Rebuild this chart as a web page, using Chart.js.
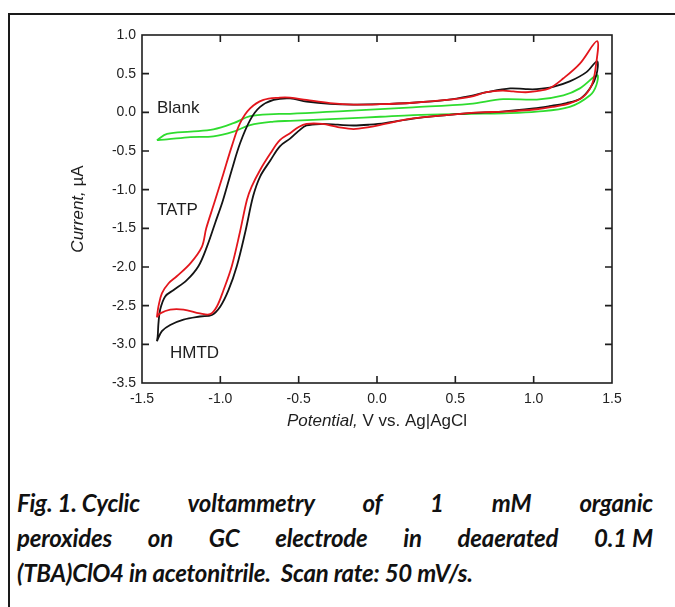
<!DOCTYPE html>
<html>
<head>
<meta charset="utf-8">
<script src="https://cdn.jsdelivr.net/npm/chart.js@4.4.1/dist/chart.umd.min.js"></script>
<style>
  body { margin: 0; width: 675px; height: 607px; overflow: hidden; background: #fff; position: relative; }
  #marco { position: absolute; left: 8px; top: 13px; width: 720px; height: 700px;
           border-left: 2px solid #1a1a1a; border-top: 2px solid #1a1a1a; }
  #grafico { position: absolute; left: 0; top: 0; }
  .leyenda { position: absolute; left: 17px; width: 636px; font-family: Lato, "Open Sans", sans-serif;
             font-weight: 700; font-style: italic; font-size: 24px; color: #111; line-height: 35px;
             white-space: nowrap; letter-spacing: -0.2px; }
  .just { text-align: justify; text-align-last: justify; white-space: normal; }
  .junto { display: inline-block; white-space: pre; }
</style>
</head>
<body>
<div id="marco"></div>
<canvas id="grafico" width="675" height="460"></canvas>
<div class="leyenda just" style="top:485px"><span class="junto">Fig. 1. Cyclic</span> voltammetry of 1 mM organic</div>
<div class="leyenda just" style="top:520px">peroxides on GC electrode in deaerated <span class="junto">0.1 M</span></div>
<div class="leyenda" style="top:555px">(TBA)ClO4 in acetonitrile.&nbsp; Scan rate: 50 mV/s.</div>
<script>
// Datos (potencial en V, corriente en µA)
const tatpV = [-1.405, -1.395, -1.373, -1.33, -1.278, -1.19, -1.118, -1.09, -1.04, -0.98, -0.927, -0.874, -0.81, -0.725, -0.62, -0.555, -0.45, -0.3, -0.15, 0.02, 0.23, 0.445, 0.593, 0.70, 0.80, 0.87, 0.95, 1.02, 1.10, 1.19, 1.295, 1.405,
               1.395, 1.37, 1.316, 1.23, 1.124, 1.02, 0.805, 0.657, 0.445, 0.23, 0.05, -0.05, -0.15, -0.25, -0.35, -0.45, -0.5, -0.555, -0.62, -0.68, -0.746, -0.80, -0.83, -0.874, -0.927, -0.98, -1.022, -1.065, -1.13, -1.235, -1.32, -1.384, -1.405];
const tatpI = [-2.65, -2.51, -2.34, -2.21, -2.12, -1.95, -1.74, -1.5, -1.18, -0.79, -0.44, -0.14, 0.05, 0.16, 0.19, 0.19, 0.16, 0.12, 0.10, 0.105, 0.124, 0.16, 0.20, 0.26, 0.28, 0.27, 0.26, 0.275, 0.31, 0.44, 0.63, 0.92,
               0.57, 0.35, 0.20, 0.116, 0.072, 0.04, 0.008, 0.0, -0.035, -0.078, -0.15, -0.19, -0.216, -0.19, -0.15, -0.15, -0.19, -0.27, -0.36, -0.53, -0.745, -0.96, -1.13, -1.54, -1.99, -2.30, -2.51, -2.61, -2.60, -2.55, -2.55, -2.60, -2.65];

const hmtdV = [-1.405, -1.40, -1.395, -1.384, -1.352, -1.30, -1.214, -1.14, -1.086, -1.033, -0.985, -0.927, -0.874, -0.81, -0.746, -0.66, -0.555, -0.45, -0.3, -0.15, 0.02, 0.23, 0.445, 0.593, 0.70, 0.85, 0.95, 1.02, 1.124, 1.23, 1.337, 1.405,
               1.40, 1.36, 1.30, 1.21, 1.10, 1.0, 0.8, 0.6, 0.445, 0.23, 0.05, -0.05, -0.15, -0.25, -0.35, -0.45, -0.5, -0.555, -0.62, -0.68, -0.746, -0.79, -0.84, -0.895, -0.948, -1.0, -1.054, -1.13, -1.235, -1.32, -1.373, -1.405];
const hmtdI = [-2.96, -2.90, -2.73, -2.55, -2.38, -2.30, -2.17, -1.99, -1.74, -1.43, -1.15, -0.745, -0.40, -0.10, 0.07, 0.16, 0.18, 0.14, 0.11, 0.10, 0.105, 0.124, 0.16, 0.21, 0.26, 0.31, 0.30, 0.30, 0.33, 0.40, 0.52, 0.66,
               0.48, 0.31, 0.18, 0.12, 0.08, 0.05, 0.01, -0.01, -0.035, -0.08, -0.14, -0.16, -0.17, -0.16, -0.15, -0.17, -0.24, -0.34, -0.44, -0.62, -0.83, -1.08, -1.54, -1.99, -2.30, -2.51, -2.62, -2.64, -2.68, -2.75, -2.83, -2.96];

const blankV = [-1.405, -1.34, -1.19, -1.044, -0.916, -0.81, -0.66, -0.555, -0.19, 0.23, 0.593, 0.805, 1.02, 1.19, 1.295, 1.405,
                1.40, 1.36, 1.23, 1.02, 0.805, 0.6, 0.23, 0.02, -0.19, -0.555, -0.66, -0.81, -0.916, -1.044, -1.19, -1.34, -1.405];
const blankI = [-0.36, -0.28, -0.25, -0.22, -0.14, -0.05, -0.022, -0.02, 0.02, 0.065, 0.11, 0.17, 0.165, 0.22, 0.31, 0.48,
                0.35, 0.22, 0.07, 0.008, -0.013, -0.02, -0.035, -0.057, -0.078, -0.11, -0.12, -0.165, -0.25, -0.31, -0.32, -0.35, -0.36];

const xTicks = [-1.5, -1.0, -0.5, 0.0, 0.5, 1.0, 1.5];
const yTicks = [-3.5, -3.0, -2.5, -2.0, -1.5, -1.0, -0.5, 0.0, 0.5, 1.0];
const etiquetas = ['Blank', 'TATP', 'HMTD'];

function puntos(xs, ys) {
    return xs.map((v, i) => ({ x: v, y: ys[i] }));
}

const fuente = '"Liberation Sans", Arial, sans-serif';

// Marco, ticks hacia dentro, títulos de ejes y rótulos de curvas
const extras = {
    id: 'extras',
    afterDraw(chart) {
        const ctx = chart.ctx;
        const a = chart.chartArea;
        const sx = chart.scales.x, sy = chart.scales.y;
        ctx.save();
        ctx.strokeStyle = '#1e1e1e';
        ctx.lineWidth = 1.6;
        ctx.strokeRect(a.left, a.top, a.right - a.left, a.bottom - a.top);
        ctx.beginPath();
        xTicks.slice(1, -1).forEach(v => {
            const p = sx.getPixelForValue(v);
            ctx.moveTo(p, a.bottom); ctx.lineTo(p, a.bottom - 7);
            ctx.moveTo(p, a.top); ctx.lineTo(p, a.top + 7);
        });
        yTicks.slice(1, -1).forEach(v => {
            const p = sy.getPixelForValue(v);
            ctx.moveTo(a.left, p); ctx.lineTo(a.left + 7, p);
            ctx.moveTo(a.right, p); ctx.lineTo(a.right - 7, p);
        });
        ctx.stroke();

        ctx.fillStyle = '#1e1e1e';
        ctx.textBaseline = 'middle';
        ctx.textAlign = 'left';
        function mixto(cx, cy, it, normal) {
            ctx.font = 'italic 17px ' + fuente;
            const w1 = ctx.measureText(it).width;
            ctx.font = '17px ' + fuente;
            const w2 = ctx.measureText(normal).width;
            const x0 = cx - (w1 + w2) / 2;
            ctx.font = 'italic 17px ' + fuente;
            ctx.fillText(it, x0, cy);
            ctx.font = '17px ' + fuente;
            ctx.fillText(normal, x0 + w1, cy);
        }
        mixto((a.left + a.right) / 2, 421, 'Potential,', ' V vs. Ag|AgCl');
        ctx.save();
        ctx.translate(78, 209);
        ctx.rotate(-Math.PI / 2);
        mixto(0, 0, 'Current,', ' µA');
        ctx.restore();

        ctx.font = '17px ' + fuente;
        ctx.fillText(etiquetas[0], 157, 108);
        ctx.fillText(etiquetas[1], 157, 210);
        ctx.fillText(etiquetas[2], 170, 353);
        ctx.restore();
    }
};

const ctx = document.getElementById('grafico').getContext('2d');
window.myChart = new Chart(ctx, {
    type: 'scatter',
    data: {
        datasets: [
            { label: 'TATP', data: puntos(tatpV, tatpI), borderColor: '#e3161c' },
            { label: 'HMTD', data: puntos(hmtdV, hmtdI), borderColor: '#141414' },
            { label: 'Blank', data: puntos(blankV, blankI), borderColor: '#2fdc2f' }
        ]
    },
    options: {
        responsive: false,
        animation: false,
        showLine: true,
        elements: {
            point: { radius: 0 },
            line: { borderWidth: 1.8, tension: 0.35, fill: false }
        },
        layout: { padding: { top: 35, right: 63, left: 0, bottom: 0 } },
        plugins: { legend: { display: false }, tooltip: { enabled: false } },
        scales: {
            x: {
                type: 'linear', min: -1.5, max: 1.5,
                afterBuildTicks: s => { s.ticks = xTicks.map(v => ({ value: v })); },
                afterFit: s => { s.height = 77; },
                grid: { display: false, drawTicks: false },
                border: { display: false },
                ticks: { padding: 8, color: '#222', font: { family: fuente, size: 14 },
                         callback: v => v.toFixed(1), maxRotation: 0, autoSkip: false }
            },
            y: {
                type: 'linear', min: -3.5, max: 1.0,
                afterBuildTicks: s => { s.ticks = yTicks.map(v => ({ value: v })); },
                afterFit: s => { s.width = 142; },
                grid: { display: false, drawTicks: false },
                border: { display: false },
                ticks: { padding: 6, color: '#222', font: { family: fuente, size: 14 },
                         callback: v => v.toFixed(1), autoSkip: false }
            }
        }
    },
    plugins: [extras]
});
</script>
</body>
</html>
